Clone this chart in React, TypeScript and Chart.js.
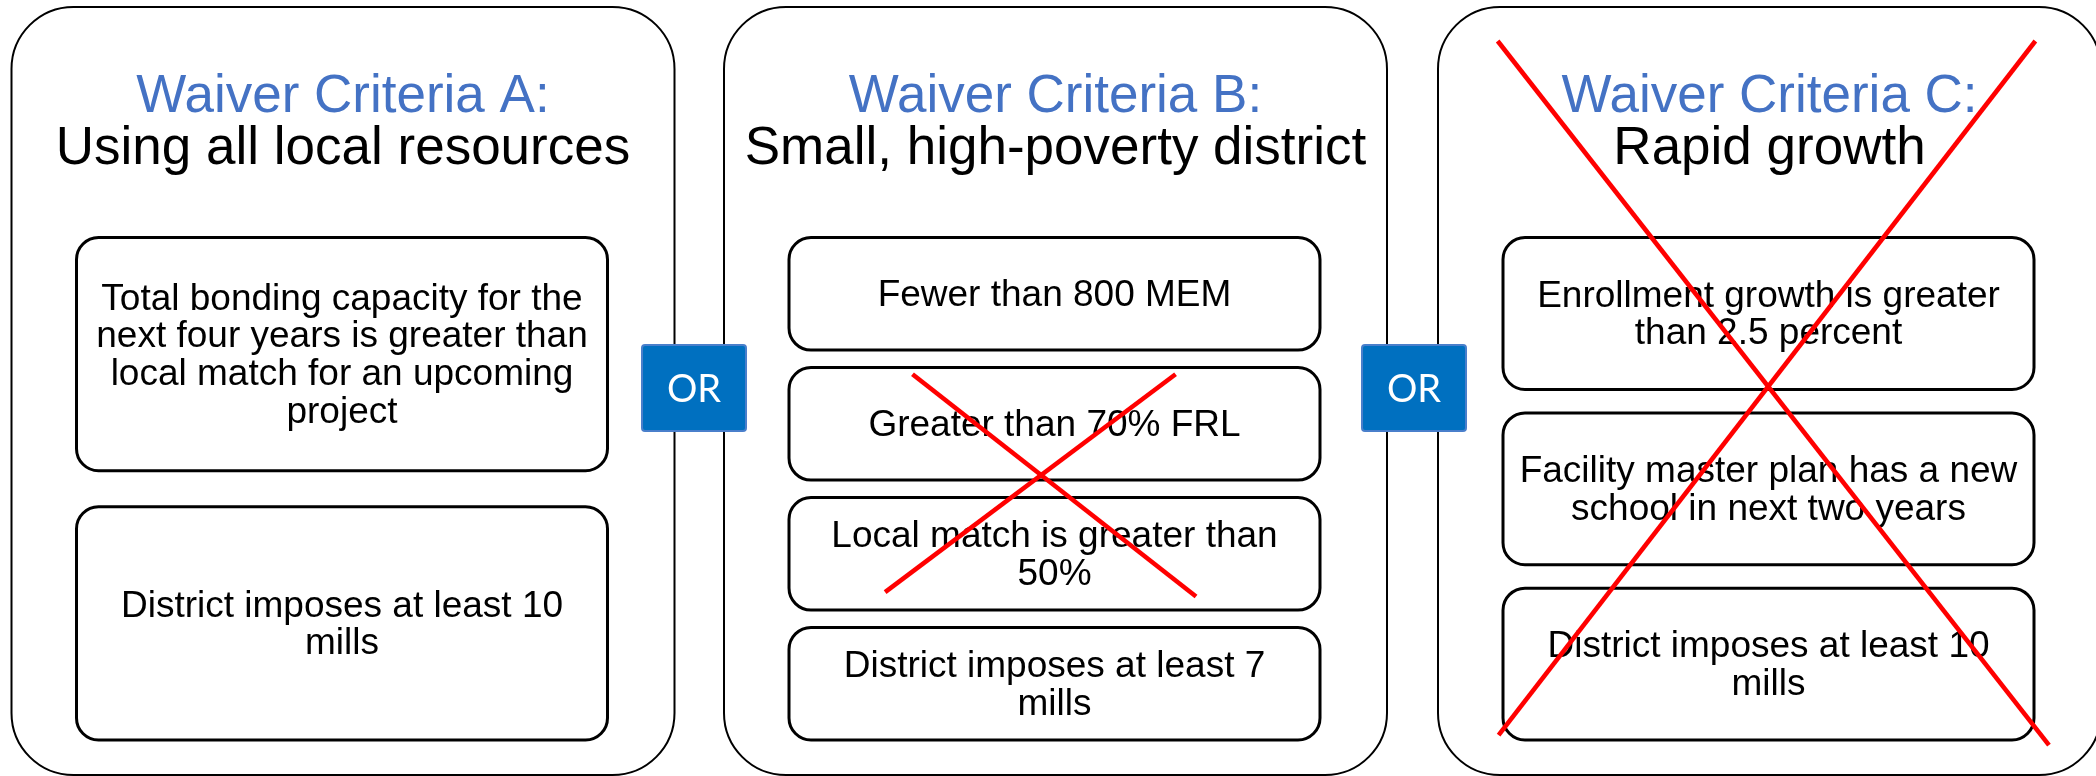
import React, { useEffect, useRef } from 'react';
import { Chart, registerables } from 'chart.js';

Chart.register(...registerables);

const W = 2096;
const H = 776;

// ---------- content ----------
const criteriaTitles = ['Waiver Criteria A:', 'Waiver Criteria B:', 'Waiver Criteria C:'];
const criteriaSubtitles = ['Using all local resources', 'Small, high-poverty district', 'Rapid growth'];
const requirementsA = [
  ['Total bonding capacity for the', 'next four years is greater than', 'local match for an upcoming', 'project'],
  ['District imposes at least 10', 'mills'],
];
const requirementsB = [
  ['Fewer than 800 MEM'],
  ['Greater than 70% FRL'],
  ['Local match is greater than', '50%'],
  ['District imposes at least 7', 'mills'],
];
const requirementsC = [
  ['Enrollment growth is greater', 'than 2.5 percent'],
  ['Facility master plan has a new', 'school in next two years'],
  ['District imposes at least 10', 'mills'],
];
const connectorLabels = ['OR', 'OR'];
// items of criterion B that are crossed out (first, last)
const struckItemsB = [1, 2];
// criteria crossed out as a whole
const struckCriteria = [2];

// ---------- layout ----------
const PANEL_LEFT = [11.5, 724, 1438];
const PANEL_W = 663;
const PANEL_TOP = 7;
const PANEL_BOTTOM = 775;
const PANEL_R = 62;
const ITEM_INSET = 65;
const ITEM_W = 531;
const ITEM_TOP = 237.6;
const ITEM_BOTTOM = 740;
const GAP_RATIO = 0.155;
const ITEM_R = 22;
const OR_CX = [694, 1414];
const OR_CY = 388;
const OR_W = 104;
const OR_H = 86;
const TITLE_BASE = [111.5, 164];
const ITEM_LINE = 37.6;
// cross shapes as fractions of their region: [[fx0, fy0, fx1, fy1], ...]
const CROSS_ITEMS_SHAPE = [
  [0.2326, 0.0277, 0.7665, 0.944],
  [0.728, 0.0277, 0.181, 0.926],
];
const CROSS_PANEL_SHAPE = [
  [0.09, 0.0443, 0.9215, 0.961],
  [0.901, 0.0443, 0.0914, 0.948],
];

const requirements = [requirementsA, requirementsB, requirementsC];

function itemBoxes(panel: number) {
  const n = requirements[panel].length;
  const total = ITEM_BOTTOM - ITEM_TOP;
  const h = total / (n + GAP_RATIO * (n - 1));
  const gap = h * GAP_RATIO;
  const x = PANEL_LEFT[panel] + ITEM_INSET;
  return requirements[panel].map((_, i) => ({
    x,
    y: ITEM_TOP + i * (h + gap),
    w: ITEM_W,
    h,
  }));
}

function crossDatasets() {
  const sets: any[] = [];
  const mk = (r: { x: number; y: number; w: number; h: number }, shape: number[][]) => {
    shape.forEach((s) => {
      sets.push({
        type: 'line',
        showLine: true,
        pointRadius: 0,
        borderColor: '#FF0000',
        borderWidth: 4.6,
        borderCapStyle: 'butt',
        data: [
          { x: r.x + s[0] * r.w, y: r.y + s[1] * r.h },
          { x: r.x + s[2] * r.w, y: r.y + s[3] * r.h },
        ],
      });
    });
  };
  const bBoxes = itemBoxes(1);
  const first = bBoxes[struckItemsB[0]];
  const last = bBoxes[struckItemsB[1]];
  mk({ x: first.x, y: first.y, w: first.w, h: last.y + last.h - first.y }, CROSS_ITEMS_SHAPE);
  struckCriteria.forEach((p) => {
    mk({ x: PANEL_LEFT[p], y: PANEL_TOP, w: PANEL_W, h: PANEL_BOTTOM - PANEL_TOP }, CROSS_PANEL_SHAPE);
  });
  return sets;
}

function roundRectPath(ctx: CanvasRenderingContext2D, x: number, y: number, w: number, h: number, r: number) {
  ctx.beginPath();
  ctx.moveTo(x + r, y);
  ctx.lineTo(x + w - r, y);
  ctx.arcTo(x + w, y, x + w, y + r, r);
  ctx.lineTo(x + w, y + h - r);
  ctx.arcTo(x + w, y + h, x + w - r, y + h, r);
  ctx.lineTo(x + r, y + h);
  ctx.arcTo(x, y + h, x, y + h - r, r);
  ctx.lineTo(x, y + r);
  ctx.arcTo(x, y, x + r, y, r);
  ctx.closePath();
}

const FONT = '"Liberation Sans", Arial, sans-serif';

const diagramPlugin = {
  id: 'diagram',
  beforeDraw(chart: any) {
    const ctx = chart.ctx as CanvasRenderingContext2D;
    ctx.save();
    ctx.fillStyle = '#FFFFFF';
    ctx.fillRect(0, 0, chart.width, chart.height);
    ctx.restore();
  },
  beforeDatasetsDraw(chart: any) {
    const ctx = chart.ctx as CanvasRenderingContext2D;
    const sx = chart.scales.x;
    const sy = chart.scales.y;
    const X = (v: number) => sx.getPixelForValue(v);
    const Y = (v: number) => sy.getPixelForValue(v);
    ctx.save();
    // panels
    PANEL_LEFT.forEach((left, p) => {
      const x0 = X(left), x1 = X(left + PANEL_W);
      const y0 = Y(PANEL_TOP), y1 = Y(PANEL_BOTTOM);
      roundRectPath(ctx, x0, y0, x1 - x0, y1 - y0, PANEL_R);
      ctx.fillStyle = '#FFFFFF';
      ctx.fill();
      ctx.lineWidth = 2;
      ctx.strokeStyle = '#000000';
      ctx.stroke();
      const cx = X(left + PANEL_W / 2);
      ctx.textAlign = 'center';
      ctx.textBaseline = 'alphabetic';
      ctx.font = `53px ${FONT}`;
      ctx.fillStyle = '#4472C4';
      ctx.fillText(criteriaTitles[p], cx, Y(TITLE_BASE[0]));
      ctx.fillStyle = '#000000';
      ctx.fillText(criteriaSubtitles[p], cx, Y(TITLE_BASE[1]));
      // items
      itemBoxes(p).forEach((b, i) => {
        const bx0 = X(b.x), bx1 = X(b.x + b.w);
        const by0 = Y(b.y), by1 = Y(b.y + b.h);
        roundRectPath(ctx, bx0, by0, bx1 - bx0, by1 - by0, ITEM_R);
        ctx.fillStyle = '#FFFFFF';
        ctx.fill();
        ctx.lineWidth = 3;
        ctx.strokeStyle = '#000000';
        ctx.stroke();
        const lines = requirements[p][i];
        const cy = (by0 + by1) / 2;
        ctx.font = `37px ${FONT}`;
        ctx.fillStyle = '#000000';
        lines.forEach((ln, k) => {
          ctx.fillText(ln, (bx0 + bx1) / 2, cy + 12 + (k - (lines.length - 1) / 2) * ITEM_LINE);
        });
      });
    });
    // OR connectors
    connectorLabels.forEach((lab, i) => {
      const x0 = X(OR_CX[i] - OR_W / 2), x1 = X(OR_CX[i] + OR_W / 2);
      const y0 = Y(OR_CY - OR_H / 2), y1 = Y(OR_CY + OR_H / 2);
      roundRectPath(ctx, x0, y0, x1 - x0, y1 - y0, 3);
      ctx.fillStyle = '#0070C0';
      ctx.fill();
      ctx.lineWidth = 2;
      ctx.strokeStyle = '#4A7FCB';
      ctx.stroke();
      ctx.font = '38px Lato, "Open Sans", sans-serif';
      ctx.fillStyle = '#FFFFFF';
      ctx.textAlign = 'center';
      ctx.textBaseline = 'alphabetic';
      ctx.fillText(lab, (x0 + x1) / 2, (y0 + y1) / 2 + 13.7);
    });
    ctx.restore();
  },
};

export default function App() {
  const ref = useRef<HTMLCanvasElement | null>(null);
  useEffect(() => {
    document.body.style.margin = '0';
    if (!ref.current) return;
    const chart = new Chart(ref.current, {
      type: 'scatter',
      data: { datasets: crossDatasets() },
      options: {
        animation: false,
        responsive: false,
        maintainAspectRatio: false,
        devicePixelRatio: 1,
        events: [],
        layout: { padding: 0 },
        plugins: { legend: { display: false }, tooltip: { enabled: false }, title: { display: false } },
        scales: {
          x: { type: 'linear', min: 0, max: W, display: false },
          y: { type: 'linear', min: 0, max: H, reverse: true, display: false },
        },
      } as any,
      plugins: [diagramPlugin],
    } as any);
    return () => chart.destroy();
  }, []);
  return (
    <div style={{ width: W, height: H, overflow: 'hidden' }}>
      <canvas ref={ref} width={W} height={H} style={{ display: 'block', width: W, height: H }} />
    </div>
  );
}
